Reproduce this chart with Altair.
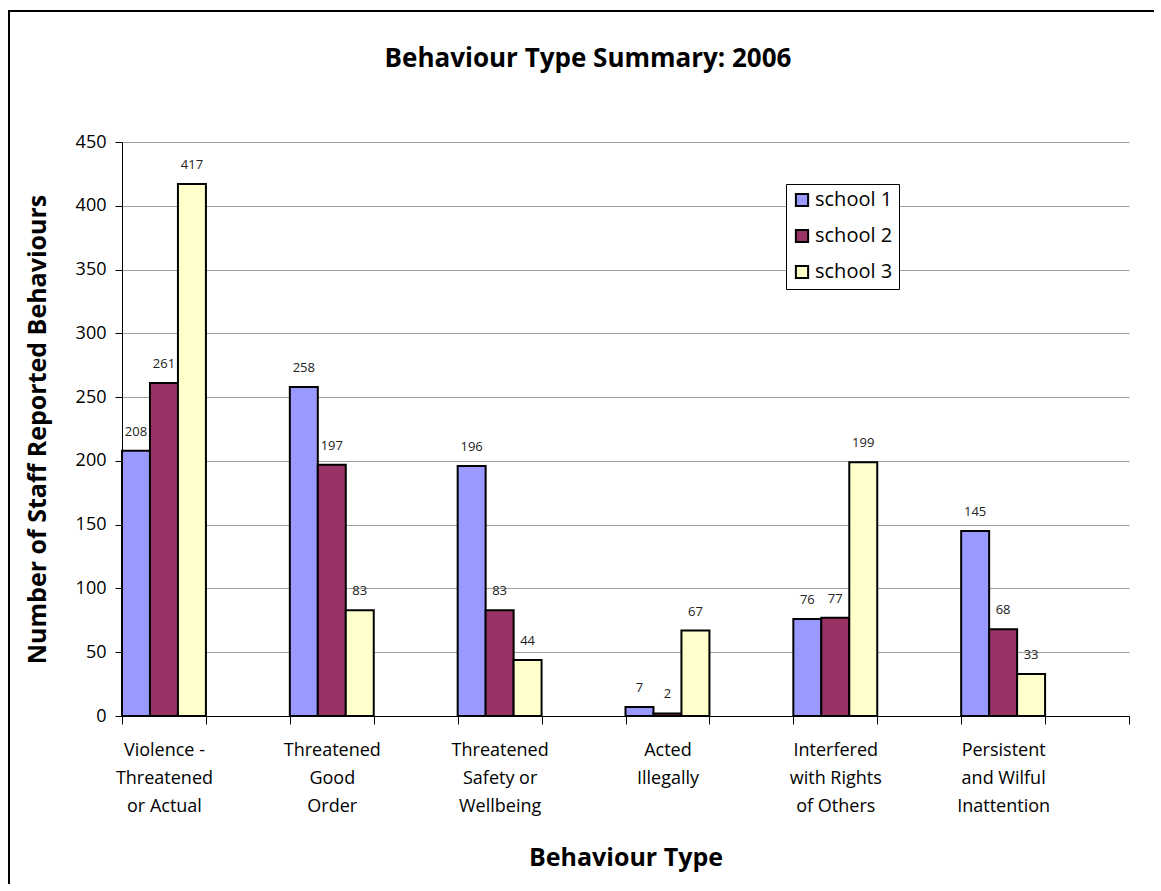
import altair as alt
import pandas as pd

categories = [
    "Violence -|Threatened|or Actual",
    "Threatened|Good|Order",
    "Threatened|Safety or|Wellbeing",
    "Acted|Illegally",
    "Interfered|with Rights|of Others",
    "Persistent|and Wilful|Inattention",
]
schools = ["school 1", "school 2", "school 3"]
school1 = [208, 258, 196, 7, 76, 145]
school2 = [261, 197, 83, 2, 77, 68]
school3 = [417, 83, 44, 67, 199, 33]
colors = ["#9999FF", "#993366", "#FFFFCC"]

FONT = "Open Sans"

rows = []
for i, c in enumerate(categories):
    for s, vals in zip(schools, [school1, school2, school3]):
        rows.append({"category": c, "school": s, "value": vals[i]})
df = pd.DataFrame(rows)

# Excel layout: each category followed by an empty slot
domain = []
for i, c in enumerate(categories):
    domain.append(c)
    domain.append(f"_b{i}")

W, H = 1007, 574

label_expr = (
    "datum.value == null || indexof('' + datum.value, '_b') == 0 ? '' : split('' + datum.value, '|')"
)

x_scale = alt.Scale(domain=domain, paddingInner=0, paddingOuter=0)
x_enc = alt.X(
    "category:N",
    scale=x_scale,
    axis=alt.Axis(
        title="Behaviour Type",
        labelExpr=label_expr,
        labelAngle=0,
        labelFontSize=18,
        labelLineHeight=28,
        labelPadding=17,
        labelFont=FONT,
        labelColor="#000000",
        tickBand="extent",
        tickSize=8,
        tickColor="#000000",
        domainColor="#000000",
        titleFont=FONT,
        titleFontSize=25,
        titleFontWeight="bold",
        titleX=W / 2,
        titleY=857 - 716,
        titleBaseline="middle",
        titleColor="#000000",
        grid=False,
    ),
)
xo_enc = alt.XOffset("school:N", scale=alt.Scale(domain=schools, paddingInner=0, paddingOuter=0))
y_enc = alt.Y(
    "value:Q",
    scale=alt.Scale(domain=[0, 450]),
    axis=alt.Axis(
        title="Number of Staff Reported Behaviours",
        values=list(range(0, 451, 50)),
        labelFontSize=18,
        labelFont=FONT,
        labelColor="#000000",
        labelPadding=9,
        tickSize=7,
        tickColor="#000000",
        domainColor="#000000",
        gridColor="#a0a0a0",
        gridWidth=1,
        titleFont=FONT,
        titleFontSize=25,
        titleFontWeight="bold",
        titleX=37 - 122,
        titleY=H / 2,
        titleBaseline="middle",
        titleColor="#000000",
    ),
)

bars = alt.Chart(df).mark_bar(stroke="#000000", strokeWidth=2).encode(
    x=x_enc,
    xOffset=xo_enc,
    y=y_enc,
    color=alt.Color(
        "school:N",
        scale=alt.Scale(domain=schools, range=colors),
        legend=alt.Legend(
            title=None,
            orient="none",
            legendX=786 - 122,
            legendY=184 - 142,
            strokeColor="#000000",
            fillColor="#ffffff",
            padding=6,
            symbolType="square",
            symbolSize=150,
            symbolStrokeColor="#000000",
            symbolStrokeWidth=2,
            labelFont=FONT,
            labelFontSize=20,
            labelColor="#000000",
            rowPadding=14,
            labelOffset=3,
        ),
    ),
)

labels = alt.Chart(df).mark_text(
    baseline="alphabetic", dy=-15, fontSize=13, font=FONT, color="#222222"
).encode(
    x=alt.X("category:N", scale=x_scale),
    xOffset=xo_enc,
    y=alt.Y("value:Q"),
    text=alt.Text("value:Q"),
)

one = pd.DataFrame({"k": [0]})
frame_left = alt.Chart(one).mark_rule(stroke="#000000", strokeWidth=2).encode(
    x=alt.value(9 - 122),
    y=alt.value(10 - 142),
    y2=alt.value(884 - 142),
)
frame_top = alt.Chart(one).mark_rule(stroke="#000000", strokeWidth=2).encode(
    x=alt.value(8 - 122),
    x2=alt.value(1154 - 122),
    y=alt.value(11 - 142),
)

title = alt.Chart(one).mark_text(
    text="Behaviour Type Summary: 2006",
    font=FONT, fontSize=26, fontWeight="bold", color="#000000",
    align="center", baseline="alphabetic",
).encode(
    x=alt.value(588 - 122),
    y=alt.value(67 - 142),
)

chart = alt.layer(frame_left, frame_top, bars, labels, title).properties(
    width=W,
    height=H,
    autosize=alt.AutoSizeParams(type="none"),
    padding={"left": 122, "top": 142, "right": 32, "bottom": 175},
).configure_view(stroke=None)

chart.save("out.html", embed_options={"renderer": "svg", "actions": False})
